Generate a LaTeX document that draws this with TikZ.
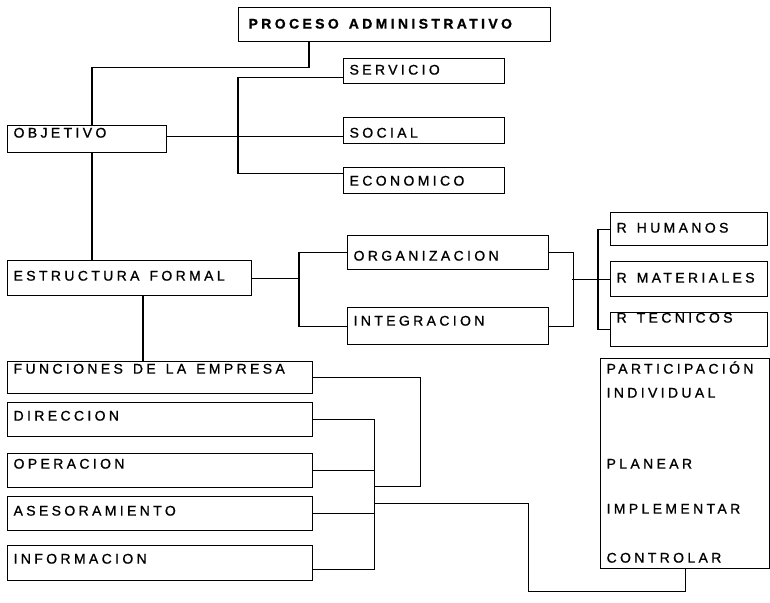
\documentclass[tikz,border=0pt]{standalone}
\usepackage{fontspec}
\newfontfamily\boxfont{Liberation Sans}[LetterSpace=24,FakeBold=1]
\newcommand\boxsize{\fontsize{14}{24}\selectfont}
\newcommand\ws{\hspace{10pt}}
\usetikzlibrary{positioning}

\begin{document}
\begin{tikzpicture}[x=1pt,y=-1pt,line width=1.2pt,
  box/.style={draw,anchor=north west,inner xsep=6pt,inner ysep=0pt,align=left,
    font=\boxfont\boxsize},
  tb/.style 2 args={text height=#1pt,text depth=#2pt}]
  \useasboundingbox (0,0) rectangle (770,602);
  \node[box,font=\boxfont\bfseries\boxsize,inner xsep=10pt,text width=292pt,tb={21}{13}] (pa) at (238,7) {PROCESO\ws ADMINISTRATIVO};
  \node[box,text width=149pt,tb={16}{9}] (serv) at (343,58) {SERVICIO};
  \node[box,text width=149pt,tb={20}{6}] (soc) at (343,117) {SOCIAL};
  \node[box,text width=149pt,tb={18}{8}] (eco) at (343,167) {ECONOMICO};
  \node[box,text width=147pt,tb={12}{15}] (obj) at (7,125) {OBJETIVO};
  \node[box,text width=232pt,tb={20}{15}] (ef) at (7,260) {ESTRUCTURA\ws FORMAL};
  \node[box,text width=189pt,tb={25}{9}] (org) at (347,235) {ORGANIZACION};
  \node[box,text width=189pt,tb={18}{19}] (intg) at (347,307) {INTEGRACION};
  \node[box,text width=145pt,tb={20}{13}] (rh) at (610,212) {R\ws HUMANOS};
  \node[box,text width=145pt,tb={21}{14}] (rm) at (610,261) {R\ws MATERIALES};
  \node[box,text width=145pt,tb={10}{24}] (rt) at (610,312) {R\ws TECNICOS};
  \node[box,text width=293pt,tb={12}{20}] (fun) at (7,361) {FUNCIONES\ws DE\ws LA\ws EMPRESA};
  \node[box,text width=293pt,tb={18}{16}] (dir) at (7,402) {DIRECCION};
  \node[box,text width=293pt,tb={15}{19}] (ope) at (7,453) {OPERACION};
  \node[box,text width=293pt,tb={19}{15}] (ase) at (7,496) {ASESORAMIENTO};
  \node[box,text width=293pt,tb={18}{17}] (inf) at (7,545) {INFORMACION};
  \node[box,text width=157pt,tb={15}{195}] (part) at (600,358)
    {PARTICIPACIÓN\\INDIVIDUAL\\[47pt]PLANEAR\\[21pt]IMPLEMENTAR\\[25pt]CONTROLAR};

  \draw ([xshift=71pt]pa.south west) -- ++(0,25) -| ([xshift=85pt]obj.north west);
  \draw ([yshift=2.5pt]obj.east) -- ([yshift=-6pt]soc.west);
  \draw ([yshift=-6.5pt]serv.west) -- ++(-105,0) |- ([yshift=7pt]eco.west);
  \draw ([xshift=85pt]obj.south west) -- ([xshift=85pt]ef.north west);
  \draw (ef.east) -- ++(48,0);
  \draw (org.west) -- ++(-48,0) |- (intg.west);
  \draw (org.east) -- ++(24,0) |- (intg.east);
  \draw (rm.west) -- ++(-38,0);
  \draw (rh.west) -- ++(-12,0) |- (rt.west);
  \draw ([xshift=136pt]ef.south west) -- ([xshift=136pt]fun.north west);
  \draw (fun.east) -- ++(107,0) |- ([xshift=61pt,yshift=-16pt]ope.east);
  \draw (dir.east) -- ++(61,0) |- ([yshift=-6.5pt]inf.east);
  \draw (ope.east) -- ++(61,0);
  \draw (ase.east) -- ++(61,0);
  \draw ([xshift=61pt,yshift=10pt]ase.east) -- ++(154,0) |- ([yshift=-22pt]part.south) -- (part.south);
\end{tikzpicture}
\end{document}
